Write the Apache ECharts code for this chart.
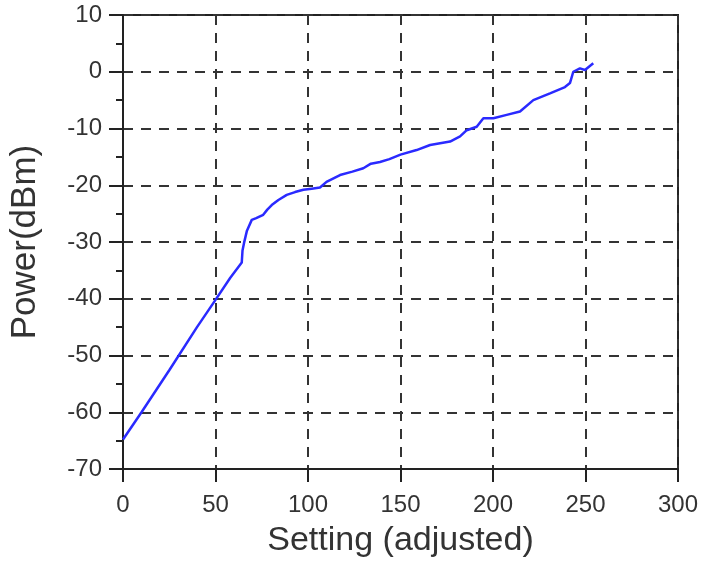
<!DOCTYPE html>
<html>
<head>
<meta charset="utf-8">
<title>Power vs Setting</title>
<script src="https://cdn.jsdelivr.net/npm/echarts@6/dist/echarts.min.js"></script>
<style>
  html, body { margin: 0; padding: 0; background: #fff; }
  #chart { width: 717px; height: 569px; }
</style>
</head>
<body>
<div id="chart"></div>
<script>
var settingValues = [0, 10, 25, 40, 50, 58, 64.2, 64.6, 65.4, 67, 69.6, 72, 75.8, 78, 80.4, 84, 88.5, 93, 97.5,
  102, 106.5, 110, 117.3, 124, 129.9, 134, 138.9, 144, 150, 158.7, 166, 176.8, 182.2, 185.8, 191.2,
  194.8, 200.2, 207.4, 214.6, 221.8, 230.8, 238.9, 241.6, 243.4, 247, 249.7, 254.2];
var powerValues = [-64.8, -60, -52.6, -45, -40.2, -36.3, -33.6, -31.5, -30.2, -28, -26.1, -25.8, -25.2, -24.3, -23.5, -22.6, -21.7, -21.2, -20.8,
  -20.6, -20.4, -19.4, -18.2, -17.6, -17.0, -16.2, -15.9, -15.4, -14.6, -13.8, -12.9, -12.3, -11.4, -10.3, -9.7,
  -8.2, -8.2, -7.6, -7.0, -5.0, -3.8, -2.7, -2.0, 0, 0.6, 0.3, 1.5];

var xRange = [0, 300];   // ticks every 50
var yRange = [-70, 10];  // ticks every 10

var points = [];
for (var i = 0; i < settingValues.length; i++) {
  points.push([settingValues[i], powerValues[i]]);
}

var chart = echarts.init(document.getElementById('chart'));
var gridLine = { color: '#333', width: 2, type: [10, 8] };

chart.setOption({
  animation: false,
  grid: {
    left: 121, right: 39, top: 15, bottom: 100,
    show: true,
    borderColor: '#222',
    borderWidth: 2
  },
  xAxis: {
    type: 'value',
    min: xRange[0], max: xRange[1], interval: 50,
    name: 'Setting (adjusted)',
    nameLocation: 'middle',
    nameGap: 55,
    nameTextStyle: { fontFamily: 'Liberation Sans', fontSize: 34, color: '#333' },
    axisLine: { onZero: false, lineStyle: { color: '#222', width: 2 } },
    axisTick: { show: true, inside: false, length: 13, lineStyle: { color: '#222', width: 2 } },
    axisLabel: { margin: 24, fontFamily: 'Liberation Sans', fontSize: 24, color: '#333' },
    splitLine: { show: true, lineStyle: gridLine }
  },
  yAxis: {
    type: 'value',
    min: yRange[0], max: yRange[1], interval: 10,
    name: 'Power(dBm)',
    nameLocation: 'middle',
    nameGap: 80,
    nameTextStyle: { fontFamily: 'Liberation Sans', fontSize: 35, color: '#333' },
    axisLine: { onZero: false, lineStyle: { color: '#222', width: 2 } },
    axisTick: { show: true, inside: false, length: 14, lineStyle: { color: '#222', width: 2 } },
    minorTick: { show: true, splitNumber: 2, length: 7, lineStyle: { color: '#222', width: 2 } },
    axisLabel: { margin: 21, fontFamily: 'Liberation Sans', fontSize: 24, color: '#333' },
    splitLine: { show: true, lineStyle: gridLine }
  },
  series: [
    {
      type: 'line',
      data: points,
      showSymbol: false,
      symbol: 'none',
      lineStyle: { color: '#2a2aff', width: 2.5 }
    }
  ]
});
</script>
</body>
</html>
